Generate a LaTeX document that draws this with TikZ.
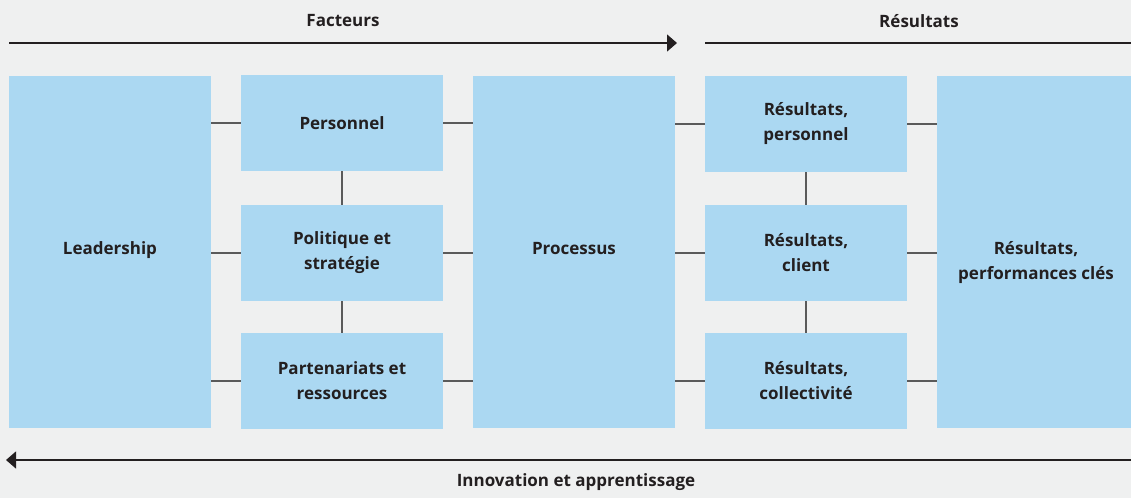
\documentclass[tikz,border=0pt]{standalone}
\usepackage{fontspec}
\setmainfont{Open Sans}[BoldFont={Open Sans Bold}]
\usetikzlibrary{arrows.meta}
\definecolor{bg}{HTML}{EFF0F0}
\definecolor{boxblue}{HTML}{ABD8F2}
\definecolor{ink}{HTML}{231F20}
\definecolor{conn}{HTML}{5A5A5A}
\tikzset{
  txt/.style={font=\fontsize{17}{25}\selectfont\bfseries, text=ink, align=center, inner sep=0pt},
  blk/.style={fill=boxblue, draw=none, inner sep=0pt, minimum width=202pt, txt},
  tall/.style={fill=boxblue, draw=none, inner sep=0pt, minimum width=202pt, minimum height=352pt},
  short/.style={blk, minimum height=96pt},
  conline/.style={draw=conn, line width=1.2pt},
  flow/.style={draw=ink, line width=1.3pt},
  lbl/.style={txt}
}
\begin{document}
\begin{tikzpicture}[x=1pt,y=-1pt]
\useasboundingbox (0,0) rectangle (1131,498);
\clip (0,0) rectangle (1131,498);
\fill[bg] (0,0) rectangle (1131,498);
% boxes
\node[tall] (lead) at (110,252) {};
\node[txt, anchor=base] (leadt) at (110,254) {Leadership};
\node[short] (pers) at (342,123) {Personnel};
\node[short] (pol) at (342,253) {Politique et\\stratégie};
\node[short] (part) at (342,381) {Partenariats et\\ressources};
\node[tall] (proc) at (574,252) {};
\node[txt, anchor=base] (proct) at (574,254) {Processus};
\node[short] (rpers) at (806,124) {Résultats,\\personnel};
\node[short] (rcli) at (806,253) {Résultats,\\client};
\node[short] (rcol) at (806,381) {Résultats,\\collectivité};
\node[tall] (rperf) at (1038,252) {};
\node[txt, anchor=base] (rperft) at (1036,279) {Résultats,\\performances clés};
% connectors
\foreach \b in {pers,pol,part}{
  \draw[conline] (lead.east |- \b.west) -- (\b.west);
  \draw[conline] (\b.east) -- (proc.west |- \b.east);
}
\foreach \b in {rpers,rcli,rcol}{
  \draw[conline] (proc.east |- \b.west) -- (\b.west);
  \draw[conline] (\b.east) -- (rperf.west |- \b.east);
}
\draw[conline] (pers.south) -- (pol.north);
\draw[conline] (pol.south) -- (part.north);
\draw[conline] (rpers.south) -- (rcli.north);
\draw[conline] (rcli.south) -- (rcol.north);
% flow arrows
\coordinate (fa) at (9,43);
\coordinate (fb) at (677,43);
\coordinate (ra) at (705,43);
\coordinate (rb) at (1141,43);
\coordinate (ia) at (1131,460);
\coordinate (ib) at (6,460);
\draw[flow, -{Triangle[length=10pt,width=17pt]}] (fa) -- (fb);
\draw[flow, -{Triangle[length=10pt,width=17pt]}] (ra) -- (rb);
\draw[flow, -{Triangle[length=10pt,width=17pt]}] (ia) -- (ib);
\node[lbl] (fact) at (343,21) {Facteurs};
\node[lbl] (res) at (919,21) {Résultats};
\node[lbl] (innov) at (576,482) {Innovation et apprentissage};
\end{tikzpicture}
\end{document}
